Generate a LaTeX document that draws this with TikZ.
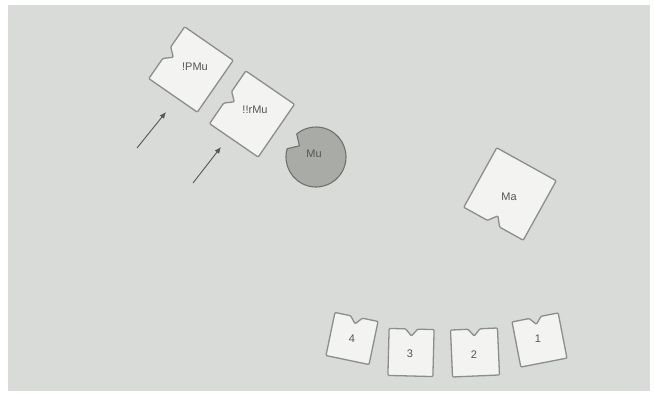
\documentclass[tikz,border=0pt]{standalone}
\usepackage{fontspec}
\setmainfont{Liberation Sans}
\usetikzlibrary{arrows.meta,calc}
\definecolor{paper}{HTML}{D8DBD7}
\definecolor{tilefill}{HTML}{F3F3F1}
\definecolor{tileedge}{HTML}{8C8E8B}
\definecolor{discfill}{HTML}{A9ABA7}
\definecolor{discedge}{HTML}{6F716E}
\definecolor{inkgray}{HTML}{555754}
\tikzset{
  tileline/.style={draw=tileedge, fill=tilefill, line width=1.3pt, rounded corners=1pt, line join=round},
  lbl/.style={font=\fontsize{11}{12}\selectfont, text=inkgray, inner sep=0pt},
  pointer/.style={draw=inkgray, line width=0.9pt, -{Latex[length=6.5pt,width=5.5pt]}},
  % square piece with a V-shaped notch cut into its top edge
  pics/notchtile/.style n args={4}{code={
    \path[tileline] (-#1,#2) -- (-#3,#2) -- (0,#2-#4) -- (#3,#2) -- (#1,#2)
      -- (#1,-#2) -- (-#1,-#2) -- cycle;
  }}
}
\begin{document}
\begin{tikzpicture}[x=1pt,y=1pt]
  \useasboundingbox (0,0) rectangle (654,394);
  \fill[white] (0,0) rectangle (654,394);
  \fill[paper] (8,3) rectangle (650,389);

  % upper pieces
  \pic (tPMu) [rotate=55.3] at (191,324.5) {notchtile={31.5}{29.5}{7}{8}};
  \node[lbl] (pmu) at (195,327) {!PMu};
  \pic (trMu) [rotate=55.5] at (252,280) {notchtile={32}{29.5}{7}{8}};
  \node[lbl] (rmu) at (255,284) {!!rMu};

  % notched disc
  \coordinate (muc) at (316,237);
  \path[draw=discedge, fill=discfill, line width=1.1pt, line join=round]
    ($(muc)+(164:30)$) arc (164:490:30) -- ($(muc)+(146:20)$) -- cycle;
  \node[lbl] (mu) at (314,240) {Mu};

  % pointers
  \coordinate (a1s) at (137,246);
  \coordinate (a1e) at (166,282);
  \coordinate (a2s) at (193,211);
  \coordinate (a2e) at (221,247);
  \draw[pointer] (a1s) -- (a1e);
  \draw[pointer] (a2s) -- (a2e);

  % single piece on the right
  \pic (tMa) [rotate=151] at (510,200) {notchtile={34}{34}{7}{9}};
  \node[lbl] (ma) at (509,197) {Ma};

  % numbered pieces
  \pic (t4) [rotate=-11.8] at (352,55.5) {notchtile={22}{22}{6}{7}};
  \node[lbl] (n4) at (352,55) {4};
  \pic (t3) [rotate=-1.5] at (411,41.5) {notchtile={22.5}{23.5}{6}{7}};
  \node[lbl] (n3) at (410,40) {3};
  \pic (t2) [rotate=2.5] at (475,41.5) {notchtile={23.5}{23.5}{6}{7}};
  \node[lbl] (n2) at (474,39) {2};
  \pic (t1) [rotate=11] at (539.5,54) {notchtile={23.5}{23}{6}{7}};
  \node[lbl] (n1) at (538,55) {1};
\end{tikzpicture}
\end{document}
